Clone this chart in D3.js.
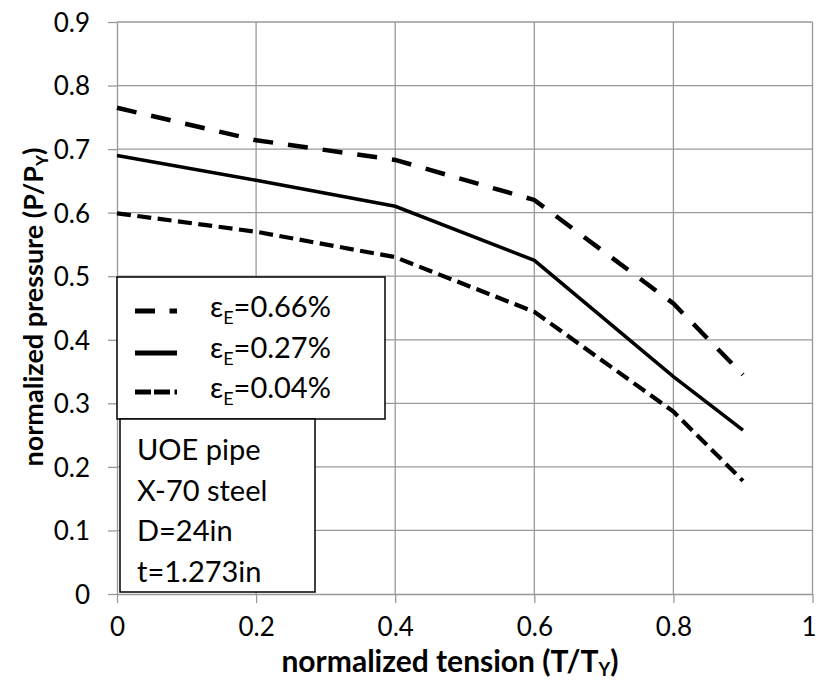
<!DOCTYPE html>
<html><head><meta charset="utf-8">
<script src="https://cdn.jsdelivr.net/npm/d3@7"></script>
<style>body{margin:0;background:#fff}svg{display:block}text{font-family:Lato,"Noto Sans",sans-serif}</style>
</head><body>
<svg id="c" width="818" height="680"></svg>
<script>
const tension = [0, 0.2, 0.4, 0.6, 0.8, 0.9];
const series066 = [0.765, 0.714, 0.683, 0.620, 0.457, 0.345];
const series027 = [0.690, 0.651, 0.610, 0.525, 0.342, 0.258];
const series004 = [0.599, 0.570, 0.530, 0.444, 0.287, 0.178];
const seriesNames = ["0.66%", "0.27%", "0.04%"];
const xTicks = [0, 0.2, 0.4, 0.6, 0.8, 1];
const yTicks = [0, 0.1, 0.2, 0.3, 0.4, 0.5, 0.6, 0.7, 0.8, 0.9];
const infoLines = ["UOE pipe", "X-70 steel", "D=24in", "t=1.273in"];

const svg = d3.select("#c");
const L = 117, R = 812.5, T = 22, B = 594;
const x = d3.scaleLinear().domain([0, 1]).range([L, R]);
const y = d3.scaleLinear().domain([0, 0.9]).range([B, T]);
const grid = "#999";

// gridlines
svg.append("g").selectAll("line").data(yTicks.slice(1)).join("line")
  .attr("x1", L).attr("x2", R).attr("y1", d => y(d)).attr("y2", d => y(d))
  .attr("stroke", grid).attr("stroke-width", 1.3);
svg.append("g").selectAll("line").data(xTicks.slice(1)).join("line")
  .attr("x1", d => x(d)).attr("x2", d => x(d)).attr("y1", T).attr("y2", B)
  .attr("stroke", grid).attr("stroke-width", 1.3);

// axes
const xa = svg.append("g").attr("transform", `translate(0,${B})`)
  .call(d3.axisBottom(x).tickValues(xTicks).tickFormat(d => d3.format("")(d)).tickSize(9).tickSizeOuter(0));
const ya = svg.append("g").attr("transform", `translate(${L},0)`)
  .call(d3.axisLeft(y).tickValues(yTicks).tickFormat(d => d3.format("")(+d.toFixed(1))).tickSize(9).tickSizeOuter(0));
[xa, ya].forEach(g => {
  g.select(".domain").attr("stroke", grid).attr("stroke-width", 1.3);
  g.selectAll(".tick line").attr("stroke", grid).attr("stroke-width", 1.3);
  g.selectAll(".tick text").attr("fill", "#000").style("font-size", "26px").style("font-family", "Lato");
});
xa.selectAll(".tick text").attr("dy", null).attr("y", 42)
  .attr("dx", d => d === 1 ? -4 : 0);
ya.selectAll(".tick text").attr("x", -27).attr("dy", "0.36em");

// lines
const line = d3.line().x((d, i) => x(tension[i])).y(d => y(d));
const styles = [
  {data: series066, w: 4.5, dash: "20,15"},
  {data: series027, w: 3.5, dash: null},
  {data: series004, w: 4.2, dash: "14,6.5"}
];
styles.forEach(s => {
  svg.append("path").datum(s.data).attr("d", line).attr("fill", "none")
    .attr("stroke", "#000").attr("stroke-width", s.w)
    .attr("stroke-dasharray", s.dash);
});

// legend
const lg = svg.append("g");
lg.append("rect").attr("x", 117).attr("y", 277).attr("width", 268).attr("height", 142)
  .attr("fill", "#fff").attr("stroke", "#000").attr("stroke-width", 1.5);
const legDash = ["20,14.5", null, "16,3,16,4.5"];
const legY = [311, 353, 392];
const legBase = [317, 358, 398];
seriesNames.forEach((n, i) => {
  lg.append("line").attr("x1", 135).attr("x2", 177).attr("y1", legY[i]).attr("y2", legY[i])
    .attr("stroke", "#000").attr("stroke-width", 5).attr("stroke-dasharray", legDash[i]);
  const t = lg.append("text").attr("x", 210).attr("y", legBase[i]).style("font-size", "29px");
  t.append("tspan").text("ε");
  t.append("tspan").text("E").style("font-size", "18px").attr("dy", 7);
  t.append("tspan").text("=" + n).attr("dy", -7);
});

// info box
const ib = svg.append("g");
ib.append("rect").attr("x", 120).attr("y", 419).attr("width", 195).attr("height", 173)
  .attr("fill", "#fff").attr("stroke", "#000").attr("stroke-width", 1.5);
infoLines.forEach((s, i) => {
  ib.append("text").attr("x", 137).attr("y", 460 + i * 40.6).style("font-size", "29px").text(s);
});

// axis titles
const xt = svg.append("text").attr("x", 450).attr("y", 672).attr("text-anchor", "middle")
  .style("font-size", "30px").style("font-weight", "bold");
xt.append("tspan").text("normalized tension (T/T");
xt.append("tspan").text("Y").style("font-size", "18px").attr("dy", 4);
xt.append("tspan").text(")").attr("dy", -4);

const yt = svg.append("text").attr("transform", "translate(43,307) rotate(-90)").attr("text-anchor", "middle")
  .style("font-size", "27px").style("font-weight", "bold");
yt.append("tspan").text("normalized pressure (P/P");
yt.append("tspan").text("Y").style("font-size", "17px").attr("dy", 5);
yt.append("tspan").text(")").attr("dy", -5);
</script>
</body></html>
